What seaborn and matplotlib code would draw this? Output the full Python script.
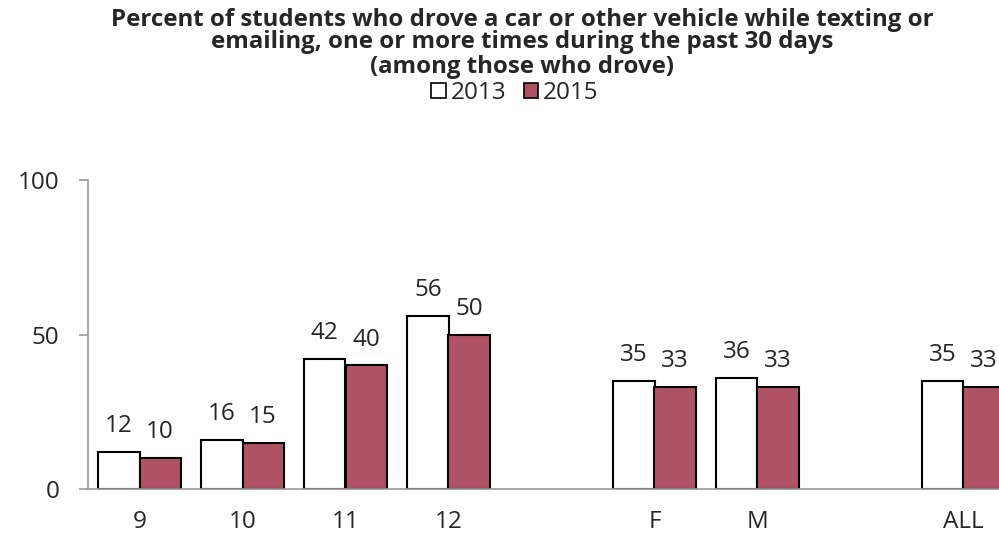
import numpy as np
import pandas as pd
import matplotlib
matplotlib.use("Agg")
import matplotlib.pyplot as plt
import seaborn as sns

# dados
categorias = ["9", "10", "11", "12", "F", "M", "ALL"]
ordem = ["9", "10", "11", "12", "gap1", "F", "M", "gap2", "ALL"]
rotulos = ["9", "10", "11", "12", "", "F", "M", "", "ALL"]
valores_2013 = [12, 16, 42, 56, 35, 36, 35]
valores_2015 = [10, 15, 40, 50, 33, 33, 33]
anos = ["2013", "2015"]
cores = {"2013": "white", "2015": "#b05266"}

df = pd.DataFrame({
    "grupo": categorias * 2,
    "ano": ["2013"] * len(categorias) + ["2015"] * len(categorias),
    "pct": valores_2013 + valores_2015,
})

sns.set_style("white")
plt.rcParams["font.family"] = ["Open Sans", "DejaVu Sans"]

fig = plt.figure(figsize=(9.99, 5.37), dpi=100)
ax = fig.add_axes([88 / 999, 1 - 489 / 537, 927 / 999, 309 / 537])

sns.barplot(data=df, x="grupo", y="pct", hue="ano", order=ordem,
            hue_order=anos, palette=cores, saturation=1, edgecolor="black",
            linewidth=1.5, width=0.8, gap=0, legend=False, ax=ax)

for cont in ax.containers:
    ax.bar_label(cont, fmt="%d", padding=10, fontsize=17.5)

ax.set_ylim(0, 100)
ax.set_xlim(-0.5, len(ordem) - 0.5)
ax.set_yticks([0, 50, 100])
ax.set_yticklabels(["0", "50", "100"], fontsize=17.5)
ax.set_xticks(range(len(ordem)))
ax.set_xticklabels(rotulos, fontsize=17.5)
ax.set_xticks(np.arange(-0.5, len(ordem), 1), minor=True)
ax.tick_params(axis="x", which="major", length=0, pad=15)
ax.tick_params(axis="x", which="minor", length=7, width=1.2, color="#999999", direction="out")
ax.tick_params(axis="y", length=6.5, width=1.2, color="#999999", direction="out", left=True, pad=14)
ax.set_xlabel("")
ax.set_ylabel("")
sns.despine(ax=ax, top=True, right=True)
for s in ["left", "bottom"]:
    ax.spines[s].set_color("#999999")
    ax.spines[s].set_linewidth(1.2)

# titulo em tres linhas
fig.text(522 / 999, 1 - 20 / 537, "Percent of students who drove a car or other vehicle while texting or",
         ha="center", va="center", fontsize=17.3, fontweight="bold")
fig.text(522 / 999, 1 - 42 / 537, "emailing, one or more times during the past 30 days",
         ha="center", va="center", fontsize=17.3, fontweight="bold")
fig.text(522 / 999, 1 - 67 / 537, "(among those who drove)",
         ha="center", va="center", fontsize=17.3, fontweight="bold")

handles = [plt.Rectangle((0, 0), 1, 1, facecolor=cores[a], edgecolor="black", linewidth=1.2)
           for a in anos]
fig.legend(handles, anos, loc="center", bbox_to_anchor=(515 / 999, 1 - 93 / 537), ncol=2,
           frameon=False, fontsize=17.5, handlelength=0.6, handleheight=0.6,
           handletextpad=0.2, columnspacing=0.7, borderpad=0)

fig.savefig("out.png", dpi=100)
